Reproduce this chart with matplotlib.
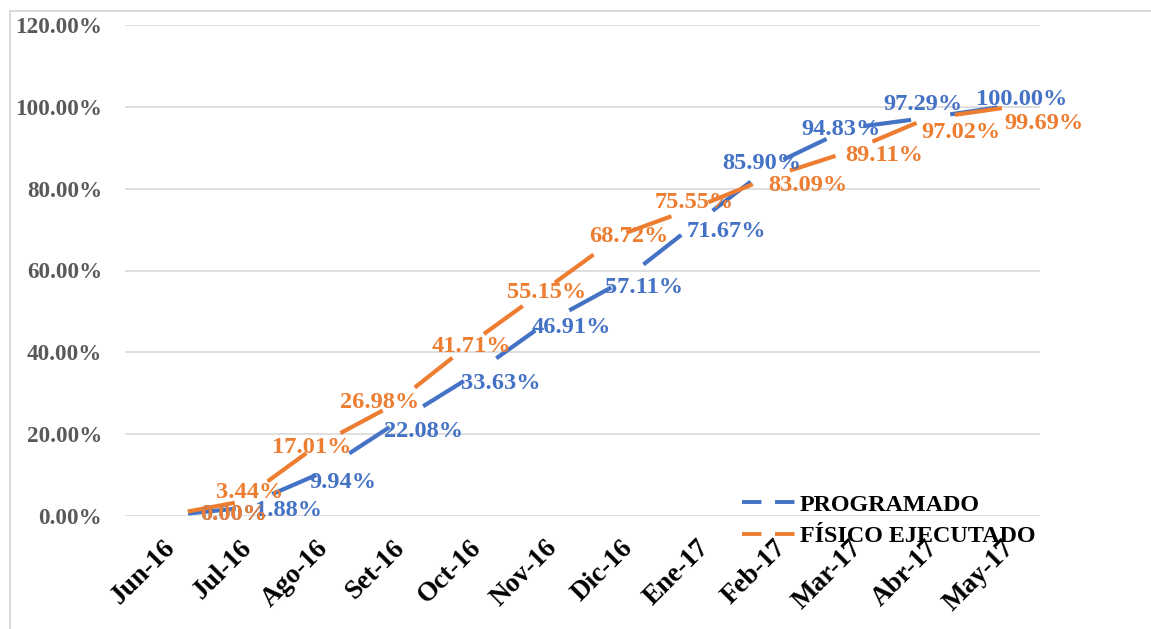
import matplotlib
matplotlib.use("Agg")
import matplotlib.pyplot as plt
from matplotlib.lines import Line2D
from matplotlib.patches import Rectangle
from matplotlib.ticker import FuncFormatter

categories = ["Jun-16", "Jul-16", "Ago-16", "Set-16", "Oct-16", "Nov-16",
              "Dic-16", "Ene-17", "Feb-17", "Mar-17", "Abr-17", "May-17"]
programado = [0.00, 1.88, 9.94, 22.08, 33.63, 46.91, 57.11, 71.67, 85.90, 94.83, 97.29, 100.00]
ejecutado = [0.00, 3.44, 17.01, 26.98, 41.71, 55.15, 68.72, 75.55, 83.09, 89.11, 97.02, 99.69]
series_names = ["PROGRAMADO", "FÍSICO EJECUTADO"]

# label offsets in pixels (dx, dy downwards) - layout only
blue_off = [(70, -1), (49, 2), (27, 7), (32, 6), (33, 5), (27, 3), (23, 5), (30, 9),
            (-11, -1), (-8, 2), (-3, -13), (20, -7)]
orange_off = [(70, -1), (10, -9), (-4, 1), (-12, -3), (3, 1), (2, 2), (8, 2), (-3, -4),
              (35, 9), (35, 4), (35, 13), (42, 15)]

BLUE = "#4472C4"
ORANGE = "#ED7D31"
GRID = "#D9D9D9"
W, H = 1151, 629
FS = 16.7
FS_LBL = 17.6
FS_X = 19.5
FS_LEG = 17.4

plt.rcParams["font.family"] = ["Liberation Serif", "DejaVu Serif"]
plt.rcParams["font.weight"] = "bold"

fig = plt.figure(figsize=(W / 100, H / 100), dpi=100)
ax = fig.add_axes([125 / W, (H - 516) / H, 915 / W, 491 / H])

x = list(range(len(categories)))
dash = (15, (11.5, 9.5))
ax.plot(x, programado, color=BLUE, lw=3.0, linestyle=dash, dash_capstyle="butt", zorder=3)
ax.plot(x, ejecutado, color=ORANGE, lw=3.0, linestyle=dash, dash_capstyle="butt", zorder=3)

for i, v in enumerate(programado):
    dx, dy = blue_off[i]
    ax.annotate(f"{v:.2f}%", (i, v), xytext=(dx, -dy), textcoords="offset pixels",
                ha="center", va="center", color=BLUE, fontsize=FS_LBL, fontweight="bold",
                zorder=4, annotation_clip=False)
for i, v in enumerate(ejecutado):
    dx, dy = orange_off[i]
    ax.annotate(f"{v:.2f}%", (i, v), xytext=(dx, -dy), textcoords="offset pixels",
                ha="center", va="center", color=ORANGE, fontsize=FS_LBL, fontweight="bold",
                zorder=5, annotation_clip=False)

ax.set_xlim(-0.5, 11.5)
ax.set_ylim(0, 120)
ax.set_yticks(range(0, 121, 20))
ax.yaxis.set_major_formatter(FuncFormatter(lambda v, p: f"{v:.2f}%"))
ax.grid(axis="y", color=GRID, lw=1.2, zorder=0)
ax.set_axisbelow(True)
for s in ax.spines.values():
    s.set_visible(False)
ax.tick_params(axis="y", length=0, pad=16.5, labelsize=FS, labelcolor="#595959")
ax.tick_params(axis="x", length=0, pad=14, labelsize=FS_X, labelcolor="black")
ax.set_xticks(x)
ax.set_xticklabels(categories, rotation=45, ha="right", va="top", rotation_mode="anchor",
                   fontweight="bold")
for lab in ax.get_yticklabels():
    lab.set_fontweight("bold")

handles = [Line2D([], [], color=BLUE, lw=2.8, linestyle=(0, (5, 3.5))),
           Line2D([], [], color=ORANGE, lw=2.8, linestyle=(0, (5, 3.5)))]
fig.legend(handles, series_names, loc="upper left", bbox_to_anchor=(742 / W, 1 - 494 / H),
           frameon=False, handlelength=2.2, handletextpad=0.2,
           labelspacing=0.38, borderpad=0, borderaxespad=0,
           prop={"weight": "bold", "size": FS_LEG})

fig.add_artist(Rectangle((10 / W, -0.1), 2, (H - 11) / H + 0.1, transform=fig.transFigure,
                         fill=False, ec=GRID, lw=1.5))

fig.savefig("out.png", dpi=100)
